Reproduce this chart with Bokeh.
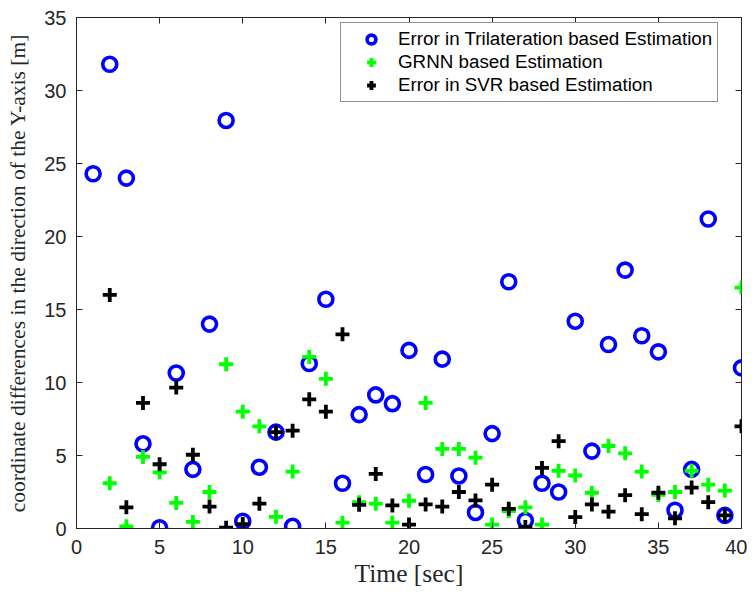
from bokeh.plotting import figure
from bokeh.models import LinearAxis, Legend, LegendItem, FixedTicker, Range1d, CustomJSTickFormatter
from bokeh.embed import file_html
from bokeh.resources import INLINE

time_s = list(range(1, 41))
trilateration = [24.3, 31.8, 24.0, 5.8, 0.05, 10.65, 4.05, 14.0, 27.95, 0.5,
                 4.2, 6.6, 0.15, 11.3, 15.7, 3.1, 7.8, 9.15, 8.55, 12.2,
                 3.7, 11.6, 3.6, 1.1, 6.5, 16.9, 0.55, 3.1, 2.5, 14.2,
                 5.3, 12.6, 17.7, 13.2, 12.1, 1.25, 4.05, 21.2, 0.9, 11.0]
grnn = [None, 3.1, 0.15, 4.9, 3.85, 1.75, 0.45, 2.5, 11.25, 8.0,
        7.0, 0.8, 3.9, 11.75, 10.25, 0.4, 1.8, 1.7, 0.4, 1.9,
        8.6, 5.45, 5.45, 4.85, 0.27, 1.2, 1.45, 0.27, 3.95, 3.63,
        2.45, 5.65, 5.15, 3.9, 2.3, 2.5, 3.95, 3.0, 2.6, 16.5]
svr = [None, 16.0, 1.45, 8.6, 4.4, 9.65, 5.05, 1.5, 0.05, 0.3,
       1.7, 6.6, 6.7, 8.85, 8.0, 13.3, 1.62, 3.74, 1.58, 0.27,
       1.65, 1.5, 2.5, 1.92, 3.0, 1.35, 0.1, 4.15, 5.98, 0.78,
       1.65, 1.15, 2.28, 0.98, 2.45, 0.7, 2.8, 1.8, 0.9, 7.0]

x_ticks = [0, 5, 10, 15, 20, 25, 30, 35, 40]
y_ticks = [0, 5, 10, 15, 20, 25, 30, 35]

gx = [t for t, v in zip(time_s, grnn) if v is not None]
gy = [v for v in grnn if v is not None]
sx = [t for t, v in zip(time_s, svr) if v is not None]
sy = [v for v in svr if v is not None]

p = figure(width=747, height=590, output_backend="svg", toolbar_location=None,
           x_range=Range1d(0, 40), y_range=Range1d(0, 35),
           min_border_left=76, min_border_right=6, min_border_top=17, min_border_bottom=62)

p.xgrid.visible = False
p.ygrid.visible = False
p.outline_line_color = "#262626"
p.outline_line_width = 1

r1 = p.scatter(time_s, trilateration, marker="circle", size=14, fill_color=None,
               line_color="#0000FF", line_width=3.6)
r2 = p.scatter(gx, gy, marker="cross", size=14, line_color="#00FF00", line_width=3.8)
r3 = p.scatter(sx, sy, marker="cross", size=14, line_color="#000000", line_width=3.8)

for ax in (p.xaxis[0], p.yaxis[0]):
    ax.major_tick_in = 6
    ax.major_tick_out = 0
    ax.minor_tick_in = 0
    ax.minor_tick_out = 0
    ax.axis_line_color = "#262626"
    ax.major_tick_line_color = "#262626"
    ax.major_label_text_font = "Liberation Sans"
    ax.major_label_text_font_size = "20px"
    ax.major_label_text_color = "#262626"
    ax.axis_label_text_font = "Liberation Serif"
    ax.axis_label_text_font_style = "normal"
    ax.axis_label_text_color = "#262626"

p.xaxis[0].ticker = FixedTicker(ticks=x_ticks)
p.yaxis[0].ticker = FixedTicker(ticks=y_ticks)
p.xaxis[0].axis_label = "Time [sec]"
p.xaxis[0].axis_label_text_font_size = "25.5px"
p.xaxis[0].major_label_standoff = 11
p.xaxis[0].axis_label_standoff = 2
p.yaxis[0].axis_label = "coordinate differences in the direction of the Y-axis [m]"
p.yaxis[0].axis_label_text_font_size = "21.5px"
p.yaxis[0].major_label_standoff = 10
p.yaxis[0].axis_label_standoff = 11

blank = CustomJSTickFormatter(code="return ''")
top = LinearAxis(ticker=FixedTicker(ticks=x_ticks), major_tick_in=6, major_tick_out=0,
                 minor_tick_in=0, minor_tick_out=0, formatter=blank,
                 major_label_standoff=0, axis_line_color=None,
                 major_tick_line_color="#262626")
right = LinearAxis(ticker=FixedTicker(ticks=y_ticks), major_tick_in=6, major_tick_out=0,
                   minor_tick_in=0, minor_tick_out=0, formatter=blank,
                   major_label_standoff=0, axis_line_color=None,
                   major_tick_line_color="#262626")
p.add_layout(top, "above")
p.add_layout(right, "right")

legend = Legend(items=[
    LegendItem(label="Error in Trilateration based Estimation", renderers=[r1]),
    LegendItem(label="GRNN based Estimation", renderers=[r2]),
    LegendItem(label="Error in SVR based Estimation", renderers=[r3]),
], location=(264, 426))
legend.label_text_font = "Liberation Sans"
legend.label_text_font_size = "18.8px"
legend.label_text_color = "#000000"
legend.border_line_color = "#262626"
legend.border_line_width = 1
legend.margin = 0
legend.padding = 5
legend.spacing = 1
legend.label_height = 22
legend.glyph_height = 22
legend.glyph_width = 50
legend.label_standoff = 2
p.add_layout(legend)

open("out.html", "w").write(file_html(p, INLINE))
